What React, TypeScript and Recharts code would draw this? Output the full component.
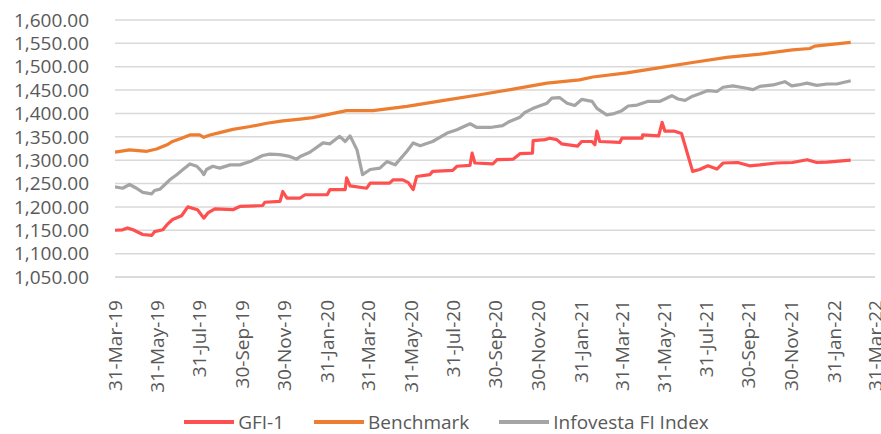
import React from "react";
import { LineChart, Line, XAxis, YAxis, CartesianGrid, Legend } from "recharts";

// ---- data (dates, values) ----
const xTickLabels = [
  "31-Mar-19", "31-May-19", "31-Jul-19", "30-Sep-19", "30-Nov-19", "31-Jan-20",
  "31-Mar-20", "31-May-20", "31-Jul-20", "30-Sep-20", "30-Nov-20", "31-Jan-21",
  "31-Mar-21", "31-May-21", "31-Jul-21", "30-Sep-21", "30-Nov-21", "31-Jan-22", "31-Mar-22",
];

const yTicks = [1050, 1100, 1150, 1200, 1250, 1300, 1350, 1400, 1450, 1500, 1550, 1600];

const gfi1: [string, number][] = [
  ["2019-03-31", 1150], ["2019-04-11", 1151], ["2019-04-18", 1155], ["2019-04-26", 1151],
  ["2019-05-10", 1141], ["2019-05-23", 1139], ["2019-05-27", 1147], ["2019-06-08", 1151],
  ["2019-06-14", 1162], ["2019-06-22", 1173], ["2019-07-05", 1181], ["2019-07-14", 1200],
  ["2019-07-28", 1194], ["2019-08-06", 1176], ["2019-08-12", 1187], ["2019-08-22", 1196],
  ["2019-09-17", 1194], ["2019-09-27", 1201], ["2019-10-30", 1203], ["2019-11-02", 1210],
  ["2019-11-24", 1212], ["2019-11-28", 1233], ["2019-12-04", 1219], ["2019-12-23", 1219],
  ["2019-12-30", 1226], ["2020-01-31", 1226], ["2020-02-04", 1237], ["2020-02-26", 1237],
  ["2020-02-28", 1262], ["2020-03-04", 1245], ["2020-03-28", 1240], ["2020-04-02", 1251],
  ["2020-04-30", 1251], ["2020-05-05", 1258], ["2020-05-19", 1258], ["2020-05-27", 1252],
  ["2020-06-03", 1237], ["2020-06-08", 1265], ["2020-06-27", 1269], ["2020-07-01", 1276],
  ["2020-07-30", 1278], ["2020-08-05", 1287], ["2020-08-24", 1289], ["2020-08-27", 1315],
  ["2020-08-31", 1294], ["2020-09-26", 1292], ["2020-10-02", 1301], ["2020-10-25", 1302],
  ["2020-11-04", 1314], ["2020-11-22", 1315], ["2020-11-23", 1342], ["2020-12-10", 1344],
  ["2020-12-17", 1347], ["2020-12-27", 1344], ["2021-01-03", 1335], ["2021-01-26", 1330],
  ["2021-02-01", 1340], ["2021-02-16", 1340], ["2021-02-20", 1333], ["2021-02-23", 1362],
  ["2021-02-27", 1340], ["2021-03-28", 1338], ["2021-03-31", 1347], ["2021-04-29", 1347],
  ["2021-04-30", 1354], ["2021-05-23", 1352], ["2021-05-28", 1381], ["2021-06-01", 1362],
  ["2021-06-15", 1362], ["2021-06-25", 1357], ["2021-07-11", 1276], ["2021-07-21", 1280],
  ["2021-08-02", 1288], ["2021-08-15", 1281], ["2021-08-24", 1294], ["2021-09-14", 1295],
  ["2021-10-01", 1288], ["2021-10-16", 1290], ["2021-11-09", 1294], ["2021-12-02", 1295],
  ["2021-12-23", 1301], ["2022-01-06", 1295], ["2022-01-21", 1296], ["2022-02-24", 1300],
];

const benchmark: [string, number][] = [
  ["2019-03-31", 1317], ["2019-04-21", 1322], ["2019-05-16", 1319], ["2019-05-30", 1324],
  ["2019-06-14", 1333], ["2019-06-22", 1340], ["2019-07-05", 1347], ["2019-07-17", 1354],
  ["2019-07-31", 1354], ["2019-08-06", 1349], ["2019-08-15", 1354], ["2019-08-29", 1359],
  ["2019-09-17", 1366], ["2019-10-12", 1372], ["2019-11-05", 1379], ["2019-11-28", 1384],
  ["2019-12-23", 1388], ["2020-01-10", 1391], ["2020-02-28", 1406], ["2020-04-06", 1406],
  ["2020-05-25", 1415], ["2020-07-22", 1429], ["2020-09-07", 1440], ["2020-10-25", 1452],
  ["2020-12-13", 1465], ["2021-01-29", 1472], ["2021-02-17", 1478], ["2021-04-07", 1487],
  ["2021-05-25", 1498], ["2021-07-11", 1509], ["2021-08-29", 1520], ["2021-10-16", 1527],
  ["2021-12-02", 1536], ["2021-12-27", 1539], ["2022-01-03", 1544], ["2022-02-24", 1552],
];

const infovesta: [string, number][] = [
  ["2019-03-31", 1243], ["2019-04-11", 1240], ["2019-04-21", 1248], ["2019-05-01", 1240],
  ["2019-05-10", 1231], ["2019-05-23", 1228], ["2019-05-27", 1235], ["2019-06-04", 1238],
  ["2019-06-11", 1248], ["2019-06-18", 1258], ["2019-06-28", 1269], ["2019-07-07", 1280],
  ["2019-07-17", 1292], ["2019-07-27", 1287], ["2019-08-03", 1276], ["2019-08-06", 1269],
  ["2019-08-10", 1280], ["2019-08-19", 1287], ["2019-08-29", 1283], ["2019-09-13", 1290],
  ["2019-09-27", 1290], ["2019-10-12", 1297], ["2019-10-30", 1310], ["2019-11-09", 1313],
  ["2019-11-24", 1312], ["2019-12-08", 1308], ["2019-12-18", 1302], ["2019-12-23", 1308],
  ["2020-01-06", 1317], ["2020-01-25", 1337], ["2020-02-04", 1335], ["2020-02-18", 1351],
  ["2020-02-26", 1340], ["2020-03-04", 1352], ["2020-03-14", 1322], ["2020-03-22", 1269],
  ["2020-04-02", 1280], ["2020-04-16", 1283], ["2020-04-26", 1297], ["2020-05-08", 1290],
  ["2020-05-25", 1319], ["2020-06-03", 1337], ["2020-06-13", 1331], ["2020-07-01", 1340],
  ["2020-07-22", 1358], ["2020-08-05", 1365], ["2020-08-24", 1378], ["2020-09-03", 1370],
  ["2020-09-22", 1370], ["2020-10-10", 1374], ["2020-10-20", 1383], ["2020-11-04", 1392],
  ["2020-11-11", 1402], ["2020-11-23", 1411], ["2020-12-13", 1422], ["2020-12-20", 1433],
  ["2020-12-31", 1434], ["2021-01-11", 1422], ["2021-01-22", 1417], ["2021-02-01", 1430],
  ["2021-02-16", 1426], ["2021-02-23", 1411], ["2021-03-02", 1404], ["2021-03-09", 1397],
  ["2021-03-18", 1399], ["2021-03-31", 1406], ["2021-04-09", 1416], ["2021-04-22", 1418],
  ["2021-05-08", 1426], ["2021-05-25", 1426], ["2021-06-11", 1438], ["2021-06-20", 1431],
  ["2021-06-30", 1428], ["2021-07-11", 1437], ["2021-07-21", 1442], ["2021-08-02", 1449],
  ["2021-08-15", 1447], ["2021-08-24", 1456], ["2021-09-07", 1459], ["2021-09-27", 1454],
  ["2021-10-06", 1451], ["2021-10-16", 1458], ["2021-11-04", 1461], ["2021-11-21", 1468],
  ["2021-12-01", 1459], ["2021-12-10", 1461], ["2021-12-23", 1465], ["2022-01-06", 1460],
  ["2022-01-21", 1463], ["2022-02-04", 1463], ["2022-02-24", 1470],
];

const seriesNames = ["GFI-1", "Benchmark", "Infovesta FI Index"];
const seriesColors = ["#FF5050", "#ED7D31", "#A5A5A5"];

// ---- helpers ----
const MONTHS: Record<string, number> = {
  Jan: 0, Feb: 1, Mar: 2, Apr: 3, May: 4, Jun: 5, Jul: 6, Aug: 7, Sep: 8, Oct: 9, Nov: 10, Dec: 11,
};
const DAY = 86400000;
const isoToDay = (s: string) => {
  const [y, m, d] = s.split("-").map(Number);
  return Date.UTC(y, m - 1, d) / DAY;
};
const labelToDay = (s: string) => {
  const [d, mon, yy] = s.split("-");
  return Date.UTC(2000 + Number(yy), MONTHS[mon], Number(d)) / DAY;
};
const tickDays = xTickLabels.map(labelToDay);
const dayToLabel: Record<number, string> = {};
tickDays.forEach((d, i) => (dayToLabel[d] = xTickLabels[i]));

const toRows = (arr: [string, number][]) => arr.map(([d, v]) => ({ t: isoToDay(d), v }));
const seriesData = [toRows(gfi1), toRows(benchmark), toRows(infovesta)];

const FONT = "'Open Sans', sans-serif";
const TEXT = "#595959";

const fmtY = (v: number) => {
  const s = v.toFixed(2);
  const [i, f] = s.split(".");
  return i.replace(/\B(?=(\d{3})+(?!\d))/g, ",") + "." + f;
};

const XTick = (props: any) => {
  const { x, y, payload } = props;
  return (
    <text
      x={x}
      y={y + 15}
      transform={`rotate(-90, ${x}, ${y + 15})`}
      textAnchor="end"
      dy="0.35em"
      fill={TEXT}
      fontSize={19}
      fontFamily={FONT}
    >
      {dayToLabel[payload.value] ?? ""}
    </text>
  );
};

const LegendContent = () => (
  <div
    style={{
      display: "flex",
      justifyContent: "center",
      alignItems: "center",
      paddingLeft: 18,
      paddingTop: 6,
      height: 24,
      fontFamily: FONT,
      fontSize: 19,
      color: TEXT,
    }}
  >
    {seriesNames.map((n, i) => (
      <div key={n} style={{ display: "flex", alignItems: "center", marginRight: i < 2 ? 30 : 0 }}>
        <div style={{ width: 50, height: 4, background: seriesColors[i], marginRight: 4 }} />
        <span style={{ lineHeight: "22px" }}>{n}</span>
      </div>
    ))}
  </div>
);

export default function App() {
  return (
    <div style={{ position: "absolute", left: 0, top: 0, width: 881, height: 434, background: "#fff" }}>
      <LineChart width={881} height={434} margin={{ top: 20, right: 6, bottom: 0, left: 0 }}>
        <CartesianGrid vertical={false} stroke="#D9D9D9" strokeWidth={1.5} />
        <XAxis
          type="number"
          dataKey="t"
          domain={[tickDays[0], tickDays[tickDays.length - 1]]}
          ticks={tickDays}
          interval={0}
          tick={<XTick />}
          tickLine={false}
          axisLine={{ stroke: "#D9D9D9", strokeWidth: 1.5 }}
          height={127}
          allowDataOverflow
        />
        <YAxis
          type="number"
          domain={[1050, 1600]}
          ticks={yTicks}
          interval={0}
          tickFormatter={fmtY}
          tickLine={false}
          tickSize={0}
          tickMargin={26}
          axisLine={false}
          width={115}
          tick={{ fill: TEXT, fontSize: 19, fontFamily: FONT }}
        />
        <Legend verticalAlign="bottom" height={30} content={<LegendContent />} />
        {seriesData.map((d, i) => (
          <Line
            key={seriesNames[i]}
            data={d}
            dataKey="v"
            name={seriesNames[i]}
            type="linear"
            stroke={seriesColors[i]}
            strokeWidth={3.2}
            dot={false}
            activeDot={false}
            isAnimationActive={false}
            strokeLinejoin="round"
          />
        ))}
      </LineChart>
    </div>
  );
}
